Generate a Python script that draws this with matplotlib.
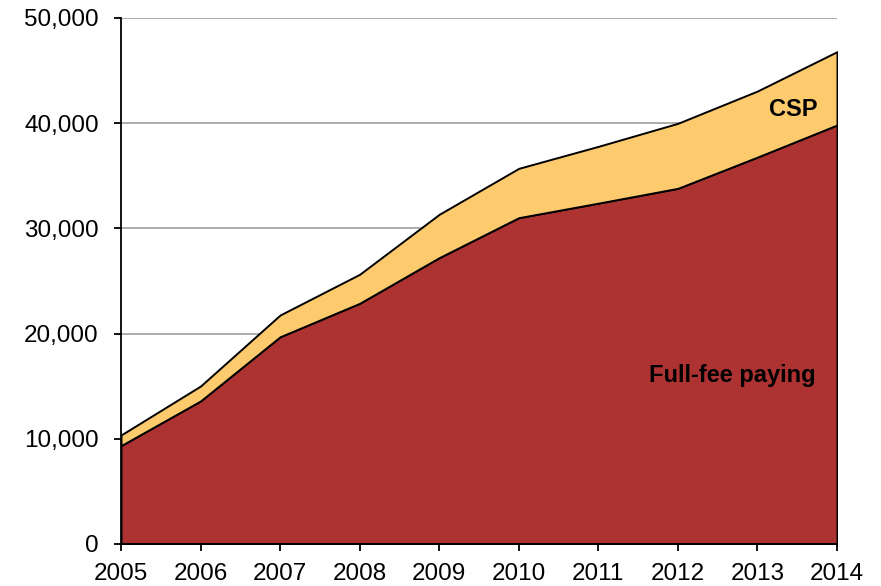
import matplotlib.pyplot as plt
from matplotlib.ticker import FuncFormatter

plt.rcParams['font.family'] = ['Liberation Sans', 'DejaVu Sans']

years = [2005, 2006, 2007, 2008, 2009, 2010, 2011, 2012, 2013, 2014]
fullfee = [9350, 13600, 19700, 22880, 27220, 31020, 32400, 33810, 36780, 39830]
total = [10360, 15020, 21770, 25640, 31340, 35710, 37800, 39990, 43060, 46800]
csp = [t - f for t, f in zip(total, fullfee)]

red = "#AD3232"
yellow = "#FDCB6E"

fig = plt.figure(figsize=(8.81, 5.86), dpi=100)
ax = fig.add_axes([121 / 881, 1 - 544 / 586, (837 - 121) / 881, (544 - 18) / 586])

ax.stackplot(years, fullfee, csp, colors=[red, yellow],
             edgecolor="black", linewidth=1.4)

ax.set_xlim(2005, 2014)
ax.set_ylim(0, 50000)
ax.set_xticks(years)
ax.set_yticks(range(0, 50001, 10000))
ax.yaxis.set_major_formatter(FuncFormatter(lambda v, p: f"{int(v):,}"))
ax.grid(axis="y", color="#A6A6A6", linewidth=1.3)
ax.set_axisbelow(True)

for s in ["top", "right"]:
    ax.spines[s].set_visible(False)
ax.spines["left"].set_linewidth(1.3)
ax.spines["bottom"].set_linewidth(1.3)
ax.tick_params(axis="both", labelsize=17.5, length=5, width=1.3, direction="out")
ax.tick_params(axis="y", pad=11)
ax.tick_params(axis="x", pad=9)

ax.text(2013.45, 41300, "CSP", fontsize=17, fontweight="bold", ha="center", va="center")
ax.text(2012.68, 16050, "Full-fee paying", fontsize=17, fontweight="bold", ha="center", va="center")

fig.savefig("out.png", dpi=100)
